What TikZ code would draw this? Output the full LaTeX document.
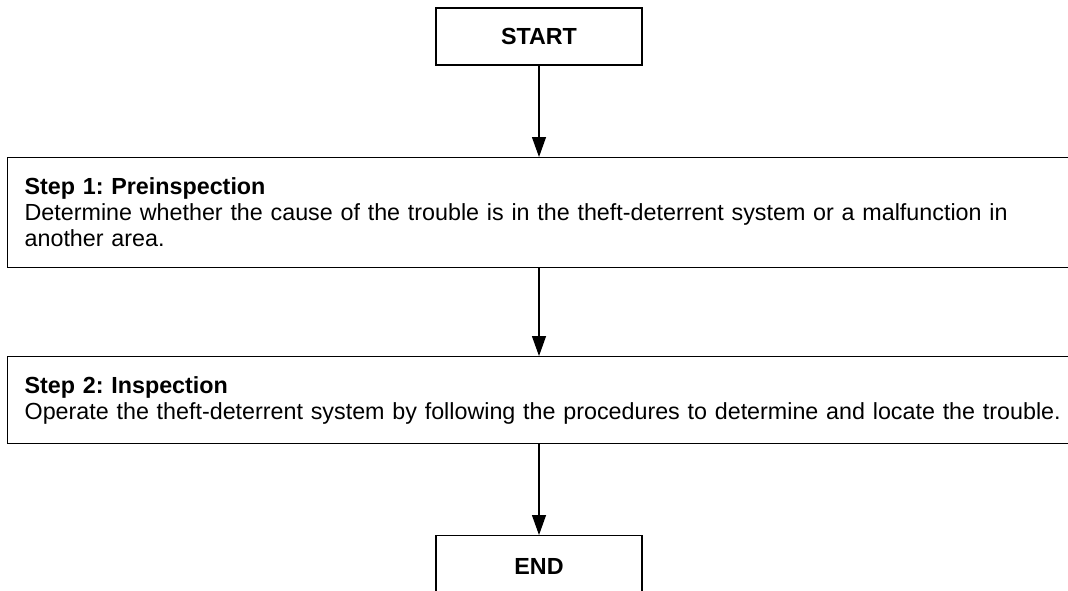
\documentclass[tikz,border=0pt]{standalone}
\usepackage{fontspec}
\setmainfont{Liberation Sans}
\usetikzlibrary{arrows.meta}
\frenchspacing

\begin{document}
\begin{tikzpicture}[x=1pt,y=-1pt,>={Triangle[length=20pt,width=14pt]},
  endbox/.style={draw,line width=1.3pt,minimum width=206pt,minimum height=57pt,inner sep=0pt,font=\fontsize{23.3}{26}\selectfont\bfseries},
  stepbox/.style={draw,line width=1.3pt,anchor=north west,text width=1045pt,align=left,inner xsep=17pt,inner ysep=0pt,font=\fontsize{23.3}{26}\selectfont},
  flow/.style={->,line width=1.3pt}]
\useasboundingbox (0,0) rectangle (1068,590);
\clip (0,0) rectangle (1068,590);
\node[endbox] (start) at (539,36.5) {START};
\node[stepbox,minimum height=110pt] (pre) at (7,157) {\textbf{Step 1: Preinspection}\\Determine whether the cause of the trouble is in the theft-deterrent system or a malfunction in\\another area.};
\node[stepbox,minimum height=87pt] (insp) at (7,356) {\textbf{Step 2: Inspection}\\Operate the theft-deterrent system by following the procedures to determine and locate the trouble.};
\node[endbox,minimum height=70pt,anchor=north] (end) at (539,535) {\raisebox{8pt}{END}};
% connectors
\draw[flow] (start.south) -- (start.south |- pre.north);
\draw[flow] (start.south |- pre.south) -- (start.south |- insp.north);
\draw[flow] (start.south |- insp.south) -- (end.north);
\end{tikzpicture}
\end{document}
